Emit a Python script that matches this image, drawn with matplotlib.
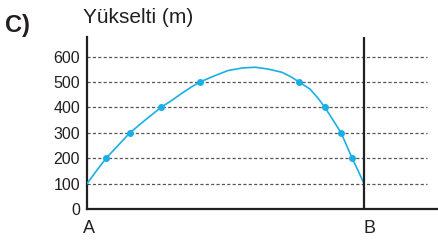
import matplotlib
matplotlib.use("Agg")
import matplotlib.pyplot as plt

plt.rcParams['font.family'] = ['Liberation Sans', 'DejaVu Sans']

# Data (horizontal distance from A=0 to B=100, elevation in m)
marker_x = [6.9, 15.5, 26.7, 40.8, 76.5, 85.9, 91.7, 95.7]
marker_y = [200, 300, 400, 500, 500, 400, 300, 200]
curve_x = [0, 3.4, 6.9, 11.2, 15.5, 21.0, 26.7, 30.4, 33.9, 37.5, 40.8, 46.2, 50.9,
           56.0, 60.6, 65.3, 70.4, 74.0, 76.5, 80.5, 83.4, 85.9, 88.8, 91.7, 93.7,
           95.7, 97.9, 100]
curve_y = [100, 150, 200, 250, 300, 350, 400, 426, 453, 479, 500, 525, 545,
           555, 558, 551, 538, 518, 500, 472, 436, 400, 350, 300, 250,
           200, 150, 100]
yticks = [0, 100, 200, 300, 400, 500, 600]
grid_levels = [100, 200, 300, 400, 500, 600]
point_labels = ['A', 'B']
point_x = [0, 100]

dark = '#231f20'
blue = '#1aaee8'

W, H = 438, 240
fig = plt.figure(figsize=(W / 100, H / 100), dpi=100)
ax = fig.add_axes([87 / W, 31 / H, (W - 87) / W, 172 / H])
ax.set_xlim(0, 126.7)
ax.set_ylim(0, 677)

ax.hlines(grid_levels, 0, 122.7, colors='#555555', linestyles=(0, (2.5, 1.8)), lw=0.9)
ax.plot(curve_x, curve_y, color=blue, lw=1.2, zorder=3, solid_joinstyle='round')
ax.plot(marker_x, marker_y, 'o', color=blue, ms=4, zorder=4)
ax.axvline(point_x[1], color=dark, lw=1.6, zorder=5)

for s in ['top', 'right']:
    ax.spines[s].set_visible(False)
for s in ['left', 'bottom']:
    ax.spines[s].set_color(dark)
    ax.spines[s].set_linewidth(1.6)

ax.set_xticks([])
ax.set_yticks(yticks)
ax.set_yticklabels([str(v) for v in yticks], fontsize=11.5, color=dark)
ax.tick_params(axis='y', length=0, pad=5)

for lbl, px in zip(point_labels, point_x):
    ax.annotate(lbl, xy=(px, 0), xycoords='data', xytext=(1.5 if lbl == 'A' else 5, -24),
                textcoords='offset pixels', ha='center', va='baseline',
                fontsize=13, color=dark)

fig.text(5 / W, 1 - 32 / H, 'C)', fontsize=17, fontweight='bold', color=dark,
         ha='left', va='baseline')
fig.text(83 / W, 1 - 23.3 / H, 'Yükselti (m)', fontsize=15, color=dark,
         ha='left', va='baseline')

fig.savefig('out.png', dpi=100)
